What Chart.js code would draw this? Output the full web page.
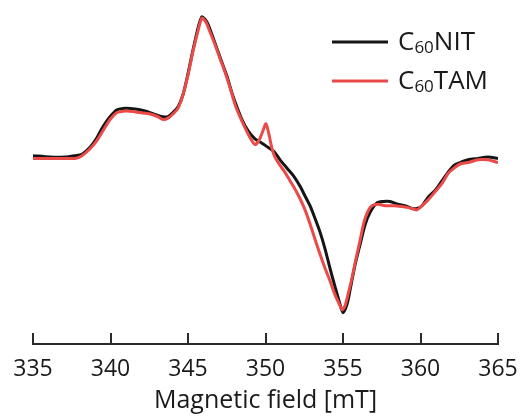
<!DOCTYPE html>
<html>
<head>
<meta charset="utf-8">
<script src="https://cdn.jsdelivr.net/npm/chart.js@4/dist/chart.umd.min.js"></script>
<style>
  html, body { margin: 0; padding: 0; background: #ffffff; }
  #wrap { width: 522px; height: 417px; position: relative; }
</style>
</head>
<body>
<div id="wrap"><canvas id="epr"></canvas></div>
<script>
// EPR spectra, magnetic field in mT, intensity normalised to the C60NIT maximum
const seriesNames = ['C60NIT', 'C60TAM'];
const seriesColors = ['#151515', '#ea4a48'];

const fieldNIT = [335.00, 336.10, 337.06, 337.71, 338.16, 338.68, 339.13, 339.52, 339.97, 340.42,
  340.81, 341.26, 341.90, 342.55, 343.06, 343.39, 343.71, 344.03, 344.35, 344.68,
  345.00, 345.32, 345.65, 345.90, 346.23, 346.55, 346.87, 347.19, 347.52, 347.84,
  348.16, 348.48, 348.87, 349.32, 349.77, 350.16, 350.55, 350.94, 351.39, 351.84,
  352.23, 352.55, 352.87, 353.19, 353.52, 353.84, 354.16, 354.48, 354.81, 355.00,
  355.26, 355.45, 355.77, 356.10, 356.42, 356.74, 357.19, 357.58, 358.03, 358.55,
  359.00, 359.45, 359.77, 360.10, 360.48, 360.94, 361.39, 361.77, 362.16, 362.55,
  363.06, 363.71, 364.35, 365.00];
const signalNIT = [0.01, 0.00, 0.00, 0.01, 0.02, 0.07, 0.14, 0.22, 0.29, 0.34,
  0.35, 0.35, 0.34, 0.32, 0.30, 0.29, 0.29, 0.32, 0.36, 0.45,
  0.60, 0.77, 0.93, 1.01, 0.97, 0.88, 0.78, 0.68, 0.58, 0.46,
  0.36, 0.27, 0.19, 0.13, 0.10, 0.07, 0.04, -0.02, -0.08, -0.14,
  -0.21, -0.28, -0.35, -0.44, -0.54, -0.66, -0.80, -0.93, -1.06, -1.12,
  -1.06, -0.96, -0.78, -0.63, -0.49, -0.40, -0.33, -0.32, -0.32, -0.34,
  -0.35, -0.37, -0.37, -0.35, -0.29, -0.24, -0.17, -0.11, -0.06, -0.04,
  -0.02, -0.01, 0.00, -0.01];

const fieldTAM = [335.00, 336.10, 337.06, 337.71, 338.16, 338.68, 339.13, 339.52, 339.97, 340.42,
  340.81, 341.26, 341.90, 342.55, 343.06, 343.39, 343.71, 344.03, 344.35, 344.68,
  345.00, 345.32, 345.65, 345.90, 346.16, 346.42, 346.74, 347.06, 347.39, 347.71,
  348.03, 348.35, 348.68, 349.00, 349.32, 349.58, 349.84, 350.03, 350.23, 350.42,
  350.61, 350.94, 351.26, 351.58, 351.90, 352.23, 352.55, 352.87, 353.19, 353.52,
  353.84, 354.16, 354.48, 354.81, 354.94, 355.13, 355.32, 355.58, 355.84, 356.10,
  356.35, 356.61, 356.87, 357.26, 357.71, 358.35, 359.00, 359.45, 359.77, 360.10,
  360.48, 360.94, 361.39, 361.77, 362.16, 362.55, 363.06, 363.71, 364.35, 365.00];
const signalTAM = [-0.01, -0.01, -0.01, -0.01, 0.01, 0.06, 0.12, 0.19, 0.27, 0.32,
  0.33, 0.33, 0.32, 0.31, 0.29, 0.27, 0.28, 0.31, 0.35, 0.45,
  0.59, 0.76, 0.91, 1.00, 0.97, 0.90, 0.81, 0.71, 0.61, 0.50,
  0.38, 0.29, 0.21, 0.14, 0.09, 0.12, 0.19, 0.24, 0.16, 0.06,
  0.00, -0.06, -0.11, -0.17, -0.23, -0.30, -0.38, -0.48, -0.59, -0.70,
  -0.80, -0.89, -0.99, -1.07, -1.10, -1.07, -0.99, -0.87, -0.73, -0.60,
  -0.47, -0.39, -0.35, -0.34, -0.35, -0.35, -0.36, -0.37, -0.38, -0.35,
  -0.31, -0.25, -0.19, -0.12, -0.08, -0.05, -0.04, -0.02, -0.02, -0.04];

const fieldTicks = [335, 340, 345, 350, 355, 360, 365];
const axisTitle = 'Magnetic field [mT]';

const toPoints = (xs, ys) => xs.map((x, i) => ({ x: x, y: ys[i] }));

// Legend with the "60" of C60 set as a subscript
const subscriptLegend = {
  id: 'subscriptLegend',
  afterDraw(chart, args, opts) {
    const ctx = chart.ctx;
    const area = chart.chartArea;
    ctx.save();
    chart.data.datasets.forEach((ds, i) => {
      const y = area.top + opts.top + i * opts.rowGap;
      const x0 = area.right - opts.fromRight;
      ctx.strokeStyle = ds.borderColor;
      ctx.lineWidth = 3;
      ctx.beginPath();
      ctx.moveTo(x0, y);
      ctx.lineTo(x0 + opts.lineLength, y);
      ctx.stroke();

      const m = /^([A-Z]+)(\d+)(.*)$/.exec(ds.label);
      let tx = x0 + opts.lineLength + opts.gap;
      const base = y + opts.baseline;
      ctx.fillStyle = '#1a1a1a';
      ctx.textBaseline = 'alphabetic';
      ctx.textAlign = 'left';
      ctx.font = opts.size + 'px "Open Sans"';
      ctx.fillText(m[1], tx, base);
      tx += ctx.measureText(m[1]).width;
      ctx.font = opts.subSize + 'px "Open Sans"';
      ctx.fillText(m[2], tx, base + opts.subDrop);
      tx += ctx.measureText(m[2]).width;
      ctx.font = opts.size + 'px "Open Sans"';
      ctx.fillText(m[3], tx, base);
    });
    ctx.restore();
  }
};

new Chart(document.getElementById('epr'), {
  type: 'line',
  data: {
    datasets: [
      {
        label: seriesNames[0],
        data: toPoints(fieldNIT, signalNIT),
        borderColor: seriesColors[0],
        backgroundColor: seriesColors[0],
        borderWidth: 3,
        pointRadius: 0,
        tension: 0.25,
        order: 2
      },
      {
        label: seriesNames[1],
        data: toPoints(fieldTAM, signalTAM),
        borderColor: seriesColors[1],
        backgroundColor: seriesColors[1],
        borderWidth: 3,
        pointRadius: 0,
        tension: 0.25,
        order: 1
      }
    ]
  },
  options: {
    responsive: true,
    maintainAspectRatio: false,
    animation: false,
    layout: { padding: { top: 10, left: 33, right: 24, bottom: 0 } },
    plugins: {
      legend: { display: false },
      tooltip: { enabled: false },
      subscriptLegend: {
        top: 32, rowGap: 39, fromRight: 166, lineLength: 56, gap: 10,
        baseline: 8, size: 26, subSize: 17, subDrop: 3
      }
    },
    scales: {
      x: {
        type: 'linear',
        min: 335,
        max: 365,
        afterBuildTicks: (scale) => { scale.ticks = fieldTicks.map(v => ({ value: v })); },
        afterFit: (scale) => {
          scale.height = 73;
          scale.paddingLeft = 0;
          scale.paddingRight = 0;
        },
        border: { display: true, color: '#2b2b2b', width: 2 },
        grid: { drawOnChartArea: false, drawTicks: true, tickLength: -11, color: '#2b2b2b', lineWidth: 2 },
        ticks: { color: '#1a1a1a', font: { family: 'Open Sans', size: 23 }, padding: 23, maxRotation: 0 },
        title: {
          display: true,
          text: axisTitle,
          color: '#1a1a1a',
          font: { family: 'Open Sans', size: 25 },
          padding: { top: 0, bottom: 1 }
        }
      },
      y: {
        display: false,
        min: -1.345,
        max: 1.058
      }
    }
  },
  plugins: [subscriptLegend]
});
</script>
</body>
</html>
